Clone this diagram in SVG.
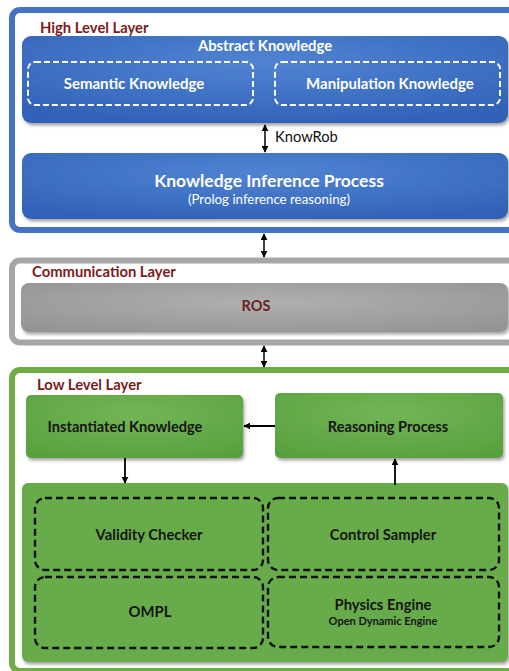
<svg xmlns="http://www.w3.org/2000/svg" width="509" height="671" viewBox="0 0 509 671">
  <defs>
    <radialGradient id="gBlue" cx="0.5" cy="0.3" r="0.75">
      <stop offset="0" stop-color="#5184D2"/>
      <stop offset="1" stop-color="#3062B8"/>
    </radialGradient>
    <radialGradient id="gGray" cx="0.5" cy="0.4" r="0.7">
      <stop offset="0" stop-color="#B0B0B0"/>
      <stop offset="1" stop-color="#949494"/>
    </radialGradient>
    <radialGradient id="gGreen" cx="0.5" cy="0.3" r="0.8">
      <stop offset="0" stop-color="#72B556"/>
      <stop offset="1" stop-color="#58A03E"/>
    </radialGradient>
    <filter id="shadow" x="-5%" y="-10%" width="112%" height="130%">
      <feDropShadow dx="1.5" dy="2.5" stdDeviation="1.8" flood-color="#000" flood-opacity="0.35"/>
    </filter>
    <marker id="ah" viewBox="0 0 10 10" refX="9" refY="5" markerWidth="7" markerHeight="7" markerUnits="userSpaceOnUse" orient="auto-start-reverse">
      <path d="M0,0 L10,5 L0,10 z" fill="#000"/>
    </marker>
  </defs>
  <style>
    .frame { fill: #fff; stroke-width: 6; }
    .title { font-family: Lato, "Open Sans", sans-serif; font-weight: bold; font-size: 14.8px; fill: #7B1C1C; }
    .wt { font-family: Lato, "Open Sans", sans-serif; font-weight: bold; fill: #fff; text-anchor: middle; }
    .bt { font-family: Lato, "Open Sans", sans-serif; font-weight: bold; fill: #161616; text-anchor: middle; }
    .sub { font-weight: normal; }
    .wdash { fill: none; stroke: #fff; stroke-width: 2; stroke-dasharray: 6 3; }
    .kdash { fill: none; stroke: #111; stroke-width: 2.4; stroke-dasharray: 7 4; }
    .conn { stroke: #000; fill: none; }
  </style>

  <g id="high-level-layer">
    <rect class="frame" x="12" y="10" width="510" height="220" rx="8" stroke="#4472C4"/>
    <text class="title" x="40" y="33">High Level Layer</text>
  </g>
  <g id="abstract-knowledge">
    <rect x="22" y="36" width="486" height="87" rx="9" fill="url(#gBlue)" filter="url(#shadow)"/>
    <text class="wt" x="265" y="51" font-size="14.8">Abstract Knowledge</text>
  </g>
  <g id="semantic-knowledge">
    <rect class="wdash" x="28" y="62" width="225" height="43" rx="7"/>
    <text class="wt" x="134" y="89" font-size="15">Semantic Knowledge</text>
  </g>
  <g id="manipulation-knowledge">
    <rect class="wdash" x="275" y="62" width="225" height="43" rx="7"/>
    <text class="wt" x="390" y="89" font-size="15">Manipulation Knowledge</text>
  </g>
  <g id="knowledge-inference-process">
    <rect x="22" y="153" width="486" height="66" rx="9" fill="url(#gBlue)" filter="url(#shadow)"/>
    <text class="wt" x="269" y="187" font-size="17.5">Knowledge Inference Process</text>
    <text class="wt sub" x="269" y="204" font-size="13.3">(Prolog inference reasoning)</text>
  </g>

  <g id="communication-layer">
    <rect class="frame" x="12" y="260.5" width="510" height="82" rx="8" stroke="#A6A6A6"/>
    <text class="title" x="32" y="277">Communication Layer</text>
  </g>
  <g id="ros">
    <rect x="21" y="283" width="487" height="49" rx="8" fill="url(#gGray)" filter="url(#shadow)"/>
    <text class="bt" x="256" y="311" font-size="14.5" style="fill:#6A2323">ROS</text>
  </g>

  <g id="low-level-layer">
    <rect class="frame" x="12" y="370" width="510" height="301" rx="8" stroke="#70AD47"/>
    <text class="title" x="37" y="390">Low Level Layer</text>
  </g>
  <g id="instantiated-knowledge">
    <rect x="26" y="395" width="217" height="63" rx="5" fill="url(#gGreen)" filter="url(#shadow)"/>
    <text class="bt" x="125" y="432" font-size="14.6">Instantiated Knowledge</text>
  </g>
  <g id="reasoning-process">
    <rect x="275" y="393" width="228" height="65" rx="5" fill="url(#gGreen)" filter="url(#shadow)"/>
    <text class="bt" x="388" y="432" font-size="14.6">Reasoning Process</text>
  </g>
  <g id="planning-block">
    <rect x="22" y="483" width="486" height="179" rx="6" fill="#67AB4B" filter="url(#shadow)"/>
  </g>
  <g id="validity-checker">
    <rect class="kdash" x="35" y="498" width="228" height="72" rx="10"/>
    <text class="bt" x="149" y="540" font-size="14.8">Validity Checker</text>
  </g>
  <g id="control-sampler">
    <rect class="kdash" x="268" y="498" width="231" height="72" rx="10"/>
    <text class="bt" x="383" y="540" font-size="14.8">Control Sampler</text>
  </g>
  <g id="ompl">
    <rect class="kdash" x="35" y="577" width="228" height="71" rx="10"/>
    <text class="bt" x="150" y="617" font-size="14.8">OMPL</text>
  </g>
  <g id="physics-engine">
    <rect class="kdash" x="268" y="577" width="231" height="70" rx="10"/>
    <text class="bt" x="383" y="610" font-size="14.8">Physics Engine</text>
    <text class="bt" x="383" y="625" font-size="11">Open Dynamic Engine</text>
  </g>

  <g id="connectors">
    <line class="conn" x1="265" y1="125" x2="265" y2="152" stroke-width="1.5" marker-start="url(#ah)" marker-end="url(#ah)"/>
    <text x="275" y="142" font-family="Lato, 'Open Sans', sans-serif" font-size="14.7" fill="#111">KnowRob</text>
    <line class="conn" x1="264" y1="234" x2="264" y2="257" stroke-width="1.5" marker-start="url(#ah)" marker-end="url(#ah)"/>
    <line class="conn" x1="264" y1="346" x2="264" y2="367" stroke-width="1.5" marker-start="url(#ah)" marker-end="url(#ah)"/>
    <line class="conn" x1="275" y1="426" x2="244" y2="426" stroke-width="2" marker-end="url(#ah)"/>
    <line class="conn" x1="125" y1="458" x2="125" y2="483" stroke-width="1.8" marker-end="url(#ah)"/>
    <line class="conn" x1="395" y1="485" x2="395" y2="459" stroke-width="1.8" marker-end="url(#ah)"/>
  </g>
</svg>
